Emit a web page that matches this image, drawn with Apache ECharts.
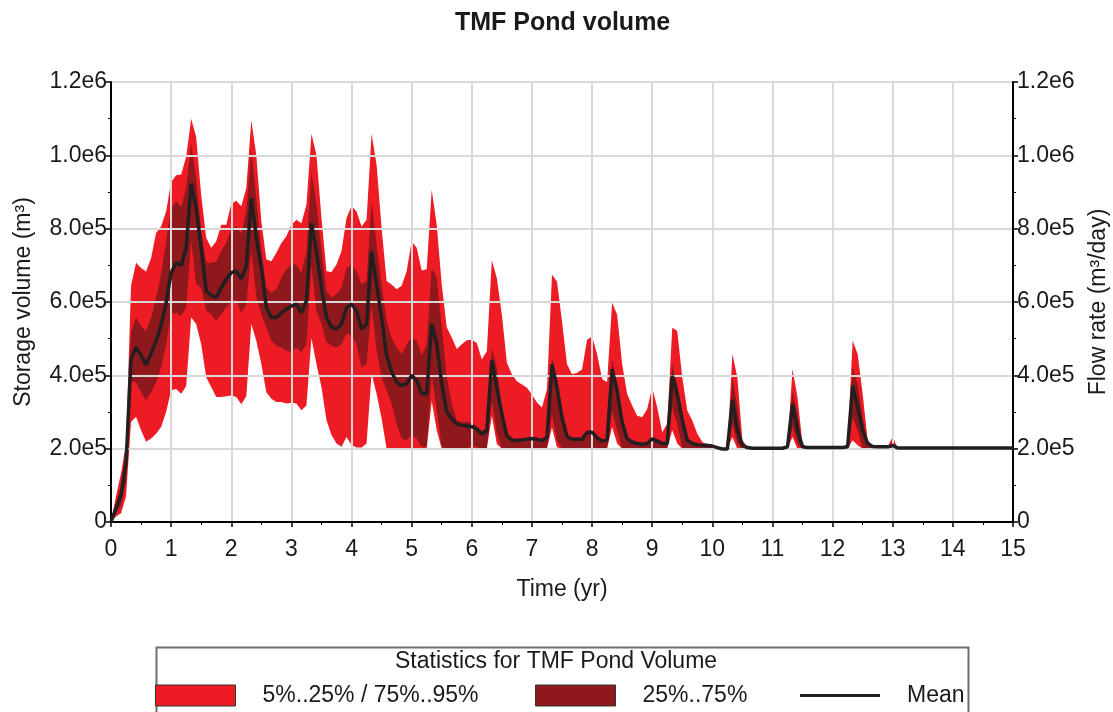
<!DOCTYPE html>
<html>
<head>
<meta charset="utf-8">
<script src="https://cdn.jsdelivr.net/npm/echarts@6/dist/echarts.min.js"></script>
<style>
  html, body { margin: 0; padding: 0; background: #fff; }
  #main { width: 1113px; height: 712px; }
</style>
</head>
<body>
<div id="main"></div>
<script>
// one value per month, 0..15 yr, storage in thousand m3
var p5 = [
  0,15,24,70,273,287,250,219,228,241,259,300,
  359,363,350,370,558,540,485,395,368,341,341,343,
  345,341,321,343,540,494,431,354,336,327,327,323,
  325,323,305,318,501,431,368,278,237,214,205,232,
  210,203,203,214,404,350,282,200,200,200,200,200,
  200,200,200,200,330,250,200,200,200,200,200,200,
  200,200,200,200,290,213,200,200,200,200,200,200,
  200,200,200,200,258,204,200,200,200,200,200,200,
  200,200,200,200,259,214,200,200,200,200,200,200,
  200,200,200,200,250,214,200,200,200,200,200,200,
  200,200,200,200,232,200,200,200,200,200,200,200,
  200,200,200,200,232,200,200,200,200,200,200,200,
  200,200,200,200,223,209,200,200,200,200,200,200,
  200,200,200,200,200,200,200,200,200,200,200,200,
  200,200,200,200,200,200,200,200,200,200,200,200,
  200
];
var p25 = [
  0,22,45,110,386,381,354,332,354,381,422,485,
  567,571,562,585,770,648,639,576,567,549,567,585,
  600,607,571,594,740,612,567,531,495,481,476,467,
  463,476,463,485,700,576,540,490,481,476,485,513,
  510,485,422,431,590,467,395,359,323,268,228,223,
  237,228,205,205,400,305,205,200,200,200,200,200,
  208,204,200,200,330,240,200,200,200,200,200,200,
  200,200,200,200,294,222,200,200,200,200,200,200,
  200,200,200,200,304,250,200,200,200,200,200,200,
  200,200,200,200,313,268,200,200,200,200,200,200,
  200,200,200,200,268,214,200,200,200,200,200,200,
  200,200,200,200,259,214,200,200,200,200,200,200,
  200,200,200,200,286,250,200,200,200,200,200,200,
  200,200,200,200,200,200,200,200,200,200,200,200,
  200,200,200,200,200,200,200,200,200,200,200,200,
  200
];
var meanVol = [
  0,38,74,160,445,477,454,429,460,494,537,598,
  680,707,700,748,923,856,748,630,618,612,639,662,
  680,684,664,698,883,775,693,585,558,558,571,580,
  589,594,571,603,815,738,639,558,531,526,540,585,
  594,576,526,540,738,648,558,454,409,381,372,377,
  400,386,350,350,540,485,377,300,282,267,264,262,
  260,253,240,249,441,366,294,235,224,222,224,226,
  228,226,222,231,430,366,285,233,226,226,226,244,
  245,230,221,224,417,358,272,227,218,214,212,214,
  227,221,214,214,399,349,277,223,214,211,209,209,
  207,203,199,199,333,250,209,203,201,201,201,201,
  201,201,201,205,322,250,205,203,203,203,203,203,
  203,203,203,205,372,313,250,214,206,205,205,205,
  209,202,202,202,202,202,202,202,202,202,202,202,
  202,202,202,202,202,202,202,202,202,202,202,202,
  202
];
var p75 = [
  0,50,100,200,517,558,535,520,558,612,675,766,
  856,875,860,910,1030,937,793,707,707,710,739,761,
  800,806,786,847,1015,883,739,639,626,635,666,689,
  702,702,680,739,955,865,739,630,612,621,639,693,
  702,684,648,657,874,757,648,549,503,476,458,485,
  503,494,454,485,692,666,531,395,323,277,273,273,
  271,262,249,258,475,421,312,238,228,226,228,230,
  232,230,226,236,448,394,303,236,230,230,230,249,
  253,235,225,228,444,376,286,232,222,218,216,218,
  232,225,218,218,431,376,286,227,218,214,211,210,
  208,204,200,200,394,313,212,204,201,201,201,201,
  201,201,201,206,358,295,207,203,203,203,203,203,
  203,203,203,207,421,376,286,218,208,205,205,205,
  215,200,200,200,200,200,200,200,200,200,200,200,
  200,200,200,200,200,200,200,200,200,200,200,200,
  200
];
var p95 = [
  0,70,133,214,644,707,693,683,720,788,806,847,
  927,946,948,996,1100,1050,891,775,748,766,811,811,
  868,876,861,910,1096,1000,820,716,711,734,761,779,
  811,824,815,865,1059,1000,829,684,682,702,739,829,
  862,847,806,824,1059,974,802,657,648,635,644,684,
  766,748,686,689,906,811,648,531,503,472,485,496,
  497,488,443,466,714,665,565,434,403,384,375,366,
  348,326,312,362,674,656,547,430,403,407,416,497,
  506,458,390,381,598,566,431,349,318,290,286,308,
  367,313,245,268,530,521,394,304,277,241,218,211,
  209,205,201,201,458,394,223,205,201,201,201,201,
  201,201,201,208,417,340,212,203,203,203,203,203,
  203,203,203,214,494,458,349,223,208,205,205,205,
  233,200,200,200,200,200,200,200,200,200,200,200,
  200,200,200,200,200,200,200,200,200,200,200,200,
  200
];
var yTicks = [0, 2e5, 4e5, 6e5, 8e5, 1e6, 1.2e6];

var outerName = '5%..25% / 75%..95%';
var innerName = '25%..75%';
var brightRed = '#ed1c24';
var darkRed = '#8e181b';
var ink = '#1a1a1a';
var font = 'Liberation Sans, Arial, sans-serif';

// pairs [yr, m3]
function toPairs(arr) {
    var out = [];
    for (var k = 0; k < arr.length; k++) out.push([k / 12, arr[k] * 1000]);
    return out;
}

function yFmt(v) {
    if (v === 0) return '0';
    return v.toExponential(1).replace('+', '');
}

// areas are painted from 0 in order p95, p75, p25, then white under p5
function bandSeries(name, arr, color) {
    return {
        name: name,
        type: 'line',
        data: toPairs(arr),
        showSymbol: false,
        silent: true,
        color: color,
        lineStyle: { width: 0, color: color },
        areaStyle: { color: color, opacity: 1, origin: 'start' },
        z: 2
    };
}

function yAxisDef(pos, name, showGrid, gap) {
    return {
        type: 'value',
        position: pos,
        min: yTicks[0],
        max: yTicks[yTicks.length - 1],
        interval: yTicks[1] - yTicks[0],
        z: 3,
        name: name,
        nameLocation: 'middle',
        nameRotate: 90,
        nameGap: gap,
        nameTextStyle: { fontSize: 23, color: ink, fontFamily: font },
        axisLine: { show: true, lineStyle: { color: '#000', width: 2 } },
        axisTick: { show: true, inside: false, length: 5, lineStyle: { color: '#000', width: 1.5 } },
        minorTick: { show: true, splitNumber: 2, length: 3, lineStyle: { color: '#000', width: 1 } },
        axisLabel: { formatter: yFmt, fontSize: 23, color: ink, fontFamily: font, margin: 4 },
        splitLine: { show: showGrid, lineStyle: { color: '#d9d9d9', width: 2 } }
    };
}

var chart = echarts.init(document.getElementById('main'), null, { renderer: 'canvas' });
var option = {
    animation: false,
    backgroundColor: '#fff',
    title: {
        text: 'TMF Pond volume',
        left: 450,
        top: 6,
        textStyle: { fontSize: 25, fontWeight: 'bold', color: ink, fontFamily: font }
    },
    grid: { left: 111, right: 100, top: 82, bottom: 190, outerBoundsMode: 'none', containLabel: false },
    xAxis: {
        type: 'value',
        min: 0,
        max: 15,
        interval: 1,
        z: 3,
        name: 'Time (yr)',
        nameLocation: 'middle',
        nameGap: 56,
        nameTextStyle: { fontSize: 23, color: ink, fontFamily: font },
        axisLine: { show: true, lineStyle: { color: '#000', width: 2 } },
        axisTick: { show: true, inside: false, length: 5, lineStyle: { color: '#000', width: 1.5 } },
        minorTick: { show: true, splitNumber: 2, length: 3, lineStyle: { color: '#000', width: 1 } },
        axisLabel: { fontSize: 23, color: ink, fontFamily: font, margin: 16 },
        splitLine: { show: true, lineStyle: { color: '#d9d9d9', width: 2 } }
    },
    yAxis: [
        yAxisDef('left', 'Storage volume (m³)', true, 76),
        yAxisDef('right', 'Flow rate (m³/day)', false, 74)
    ],
    legend: [
        {
            data: [{ name: outerName, icon: 'rect', itemStyle: { borderColor: '#333', borderWidth: 1 } }],
            left: 155, top: 684, padding: 0,
            itemWidth: 80, itemHeight: 21,
            selectedMode: false,
            textStyle: { fontSize: 23, color: ink, fontFamily: font, padding: [0, 0, 0, 22] }
        },
        {
            data: [{ name: innerName, icon: 'rect', itemStyle: { borderColor: '#333', borderWidth: 1 } }],
            left: 535, top: 684, padding: 0,
            itemWidth: 80, itemHeight: 21,
            selectedMode: false,
            textStyle: { fontSize: 23, color: ink, fontFamily: font, padding: [0, 0, 0, 22] }
        },
        {
            data: [{ name: 'Mean', icon: 'rect' }],
            left: 800, top: 684, padding: 0,
            itemWidth: 80, itemHeight: 3,
            selectedMode: false,
            textStyle: { fontSize: 23, color: ink, fontFamily: font, padding: [0, 0, 0, 22] }
        }
    ],
    graphic: [
        {
            type: 'rect',
            left: 154, top: 645,
            shape: { width: 812, height: 80 },
            style: { fill: 'none', stroke: '#6e6e6e', lineWidth: 2 },
            silent: true
        },
        {
            type: 'text',
            left: 395, top: 650,
            style: { text: 'Statistics for TMF Pond Volume', fontSize: 23, fill: ink, fontFamily: font },
            silent: true
        }
    ],
    series: [
        bandSeries(outerName, p95, brightRed),
        bandSeries(innerName, p75, darkRed),
        bandSeries(outerName, p25, brightRed),
        bandSeries('p5', p5, '#ffffff'),
        {
            name: 'Mean',
            type: 'line',
            data: toPairs(meanVol),
            showSymbol: false,
            silent: true,
            color: '#231f20',
            lineStyle: { width: 3.5, color: '#231f20' },
            z: 4
        }
    ]
};
chart.setOption(option);
</script>
</body>
</html>
